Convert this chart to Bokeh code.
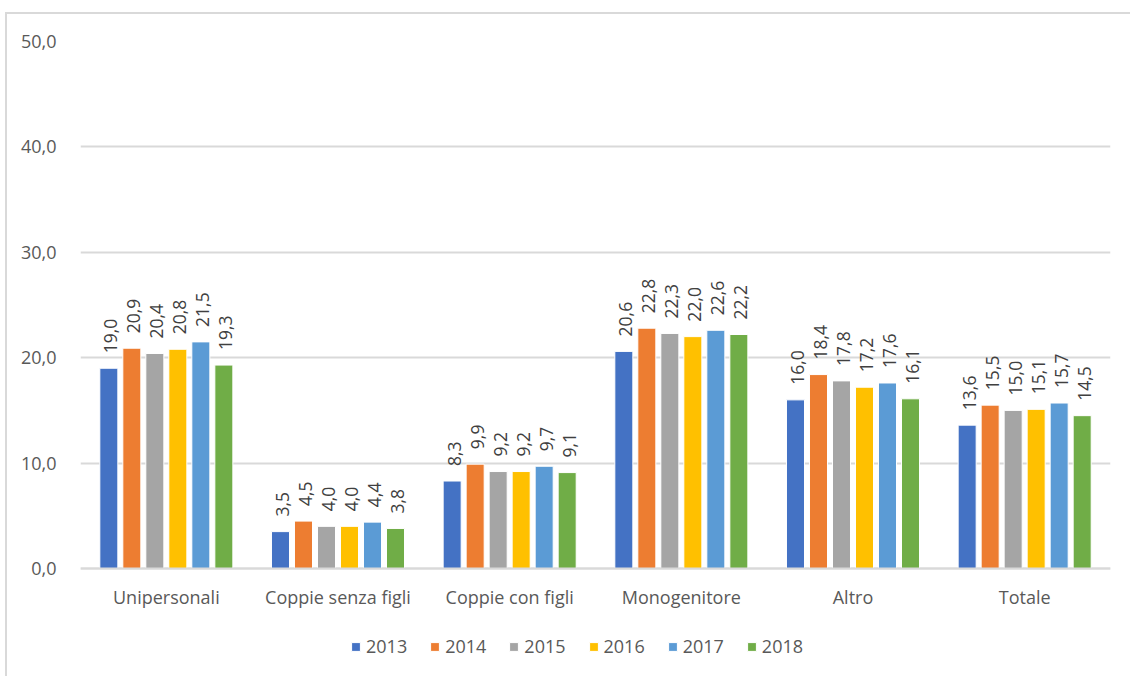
from bokeh.plotting import figure
from bokeh.models import (ColumnDataSource, FactorRange, Range1d, FixedTicker, LabelSet,
                          Legend, LegendItem, CustomJSTickFormatter)
from bokeh.transform import dodge
from bokeh.core.properties import value
from bokeh.embed import file_html
from bokeh.resources import INLINE
import math

categories = ["Unipersonali", "Coppie senza figli", "Coppie con figli", "Monogenitore", "Altro", "Totale"]
years = ["2013", "2014", "2015", "2016", "2017", "2018"]
v2013 = [19.0, 3.5, 8.3, 20.6, 16.0, 13.6]
v2014 = [20.9, 4.5, 9.9, 22.8, 18.4, 15.5]
v2015 = [20.4, 4.0, 9.2, 22.3, 17.8, 15.0]
v2016 = [20.8, 4.0, 9.2, 22.0, 17.2, 15.1]
v2017 = [21.5, 4.4, 9.7, 22.6, 17.6, 15.7]
v2018 = [19.3, 3.8, 9.1, 22.2, 16.1, 14.5]
series = [v2013, v2014, v2015, v2016, v2017, v2018]
colors = ["#4472C4", "#ED7D31", "#A5A5A5", "#FFC000", "#5B9BD5", "#70AD47"]
y_ticks = [0, 10, 20, 30, 40, 50]

FONT = "Open Sans"
FS = "18px"
LFS = "17.5px"

FRAME_H = 635
PLOT_H = 527  # height of the 0..50 part
y_low = -(FRAME_H - PLOT_H) / PLOT_H * 50

p = figure(x_range=FactorRange(*categories, range_padding=0), y_range=Range1d(y_low, 50),
           frame_width=1030, frame_height=FRAME_H, output_backend="svg", toolbar_location=None,
           min_border_left=73, min_border_right=20, min_border_top=27, min_border_bottom=0)
p.styles = {"border-left": "2px solid #d9d9d9", "border-top": "2px solid #d9d9d9",
            "margin-left": "5px", "margin-top": "12px"}
p.outline_line_color = None
p.background_fill_color = "white"
p.border_fill_color = "white"

data = {"cat": categories}
for y, s in zip(years, series):
    data["y" + y] = s
    data["l" + y] = [f"{v:.1f}".replace(".", ",") for v in s]
src = ColumnDataSource(data)

step = 0.134
items = []
for j, (y, c) in enumerate(zip(years, colors)):
    off = (j - 2.5) * step
    r = p.vbar(x=dodge("cat", off, range=p.x_range), top="y" + y, bottom=0, width=0.105,
               source=src, fill_color=c, line_color="white", line_width=1)
    items.append(LegendItem(label=y, renderers=[r]))
    lbl = LabelSet(x=dodge("cat", off, range=p.x_range), y="y" + y, text="l" + y, source=src,
                   angle=math.pi / 2, text_align="left", text_baseline="middle",
                   x_offset=2, y_offset=15, text_font=value(FONT), text_font_size=LFS,
                   text_color="#404040")
    p.add_layout(lbl)

p.yaxis.ticker = FixedTicker(ticks=y_ticks)
p.yaxis.formatter = CustomJSTickFormatter(code="return tick.toFixed(1).replace('.', ',');")
p.yaxis.axis_line_color = None
p.yaxis.major_tick_line_color = None
p.yaxis.minor_tick_line_color = None
p.yaxis.major_label_text_font = FONT
p.yaxis.major_label_text_font_size = FS
p.yaxis.major_label_text_color = "#595959"
p.yaxis.major_label_standoff = 18

p.xaxis.fixed_location = 0
p.xaxis.axis_line_color = "#d9d9d9"
p.xaxis.axis_line_width = 2
p.xaxis.major_tick_line_color = None
p.xaxis.minor_tick_line_color = None
p.xaxis.major_label_text_font = FONT
p.xaxis.major_label_text_font_size = FS
p.xaxis.major_label_text_color = "#595959"
p.xaxis.major_label_standoff = 10

p.xgrid.grid_line_color = None
p.ygrid.grid_line_color = "#d9d9d9"
p.ygrid.grid_line_width = 2

legend = Legend(items=items, orientation="horizontal", location=(270, 18),
                label_text_font=FONT, label_text_font_size=FS, label_text_color="#595959",
                glyph_width=11, glyph_height=11, spacing=22, label_standoff=5,
                border_line_color=None, background_fill_alpha=0, padding=2, margin=0)
p.add_layout(legend, "center")

open("out.html", "w").write(file_html(p, INLINE))
